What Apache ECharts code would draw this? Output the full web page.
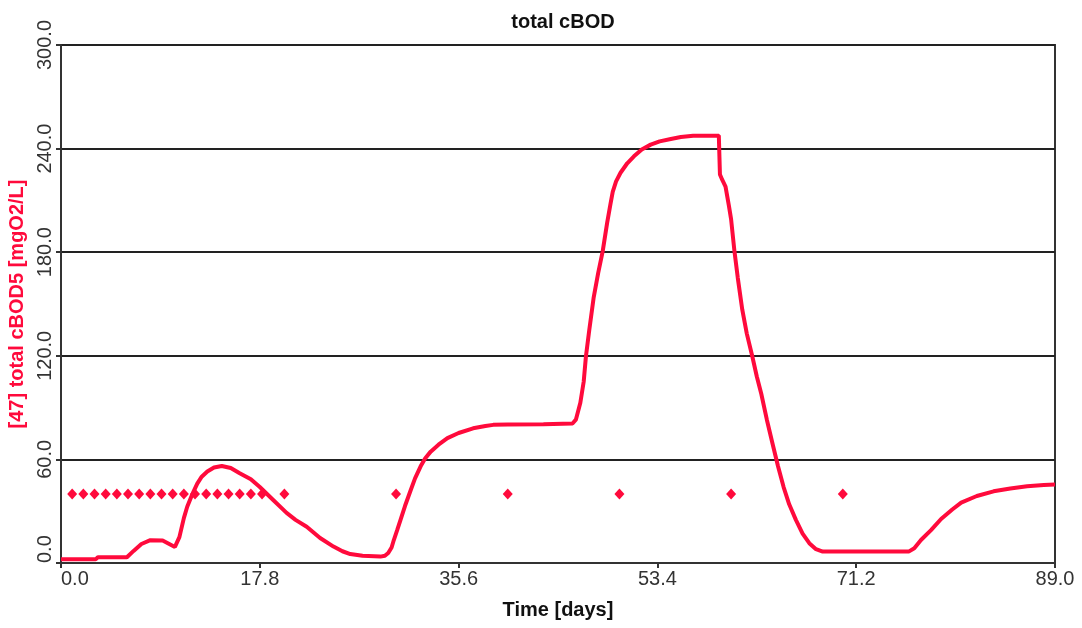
<!DOCTYPE html>
<html>
<head>
<meta charset="utf-8">
<script src="https://cdn.jsdelivr.net/npm/echarts@6/dist/echarts.min.js"></script>
<style>html,body{margin:0;padding:0;background:#fff}#c{width:1082px;height:628px}</style>
</head>
<body>
<div id="c"></div>
<script>
const chartTitle = 'total cBOD';
const xName = 'Time [days]';
const yName = '[47] total cBOD5 [mgO2/L]';
const xTicks = [0, 17.8, 35.6, 53.4, 71.2, 89.0];
const yTicks = [0, 60, 120, 180, 240, 300];
const days = [0,3.1,3.3,5.9,6.5,7.2,8.0,9.1,10.2,10.6,11.0,11.3,11.7,12.2,12.6,13.1,13.7,14.4,15.2,16.0,17.0,17.8,19.0,20.2,21.0,22.0,23.2,24.4,25.2,25.9,27.0,28.6,29.0,29.3,29.6,29.8,30.1,30.4,30.8,31.3,31.7,32.2,32.6,33.1,33.8,34.6,35.6,36.9,38.0,38.7,40,43.2,45.8,46.1,46.5,46.8,47.0,47.3,47.7,48.1,48.5,48.9,49.2,49.4,49.7,50.1,50.7,51.3,52.0,52.8,53.6,54.6,55.5,56.6,58.9,59.0,59.2,59.5,59.8,60.0,60.3,60.6,61.0,61.4,61.9,62.3,62.7,63.2,63.7,64.2,64.7,65.2,65.8,66.4,67.0,67.6,68.2,70,75.9,76.4,77.0,77.9,78.8,79.8,80.6,82.0,83.5,85.0,86.5,88.0,89.0];
const cbod = [2.1,2.1,3.3,3.3,7,11,13.2,13,9.3,15,26,32.6,39,46,50,53,55.3,56.2,55,52,48.5,44,36.5,29,25,21,14.5,9.5,6.8,5.2,4.2,3.7,4.2,5.8,9,13.3,19,25,33,42,49,56,60.5,64.5,68.5,72.3,75.3,78,79.3,80,80.2,80.3,80.8,83,92.8,105,119.6,135,154,168,180.5,197,208,215,221,226,231.5,235.5,239.5,242.3,244.2,245.6,246.7,247.5,247.5,225,222,218,207,199,180.5,165,146.7,133,119.6,108,98,83,69.4,56,44,34,25,17,11.5,8,6.6,6.6,6.6,8.5,13.3,19,25.5,31,35,38.8,41.5,43.2,44.5,45.2,45.5];
const obsDays = [1,2,3,4,5,6,7,8,9,10,11,12,13,14,15,16,17,18,20,30,40,50,60,70];
const obsValues = [40,40,40,40,40,40,40,40,40,40,40,40,40,40,40,40,40,40,40,40,40,40,40,40];

const RED = '#ff0a3c';
const FONT = '"Liberation Sans", Arial, sans-serif';
const chart = echarts.init(document.getElementById('c'), null, {renderer: 'canvas'});
chart.setOption({
  animation: false,
  backgroundColor: '#fff',
  title: {
    text: chartTitle, left: 558, top: 7, textAlign: 'center',
    textStyle: {fontFamily: FONT, fontSize: 20, fontWeight: 'bold', color: '#111'}
  },
  grid: {left: 61, right: 27, top: 45, bottom: 65, show: true, borderColor: '#333', borderWidth: 2,
    backgroundColor: 'transparent', containLabel: false, outerBoundsMode: 'none'},
  xAxis: {
    type: 'value', min: xTicks[0], max: xTicks[xTicks.length - 1], interval: xTicks[1] - xTicks[0],
    name: xName, nameLocation: 'middle', nameGap: 37,
    nameTextStyle: {fontFamily: FONT, fontSize: 20, fontWeight: 'bold', color: '#111'},
    axisLine: {show: true, lineStyle: {color: '#333', width: 2}},
    axisTick: {show: true, length: 5, lineStyle: {color: '#333', width: 2}},
    axisLabel: {fontFamily: FONT, fontSize: 20, color: '#333', margin: 6, alignMinLabel: 'left',
      formatter: v => v.toFixed(1)},
    splitLine: {show: false}
  },
  yAxis: {
    type: 'value', min: yTicks[0], max: yTicks[yTicks.length - 1], interval: yTicks[1] - yTicks[0],
    name: yName, nameLocation: 'middle', nameGap: 30, nameRotate: 90,
    nameTextStyle: {fontFamily: FONT, fontSize: 20, fontWeight: 'bold', color: RED},
    axisLine: {show: true, lineStyle: {color: '#333', width: 2}},
    axisTick: {show: true, length: 5, lineStyle: {color: '#333', width: 2}},
    axisLabel: {fontFamily: FONT, fontSize: 20, color: '#333', margin: 6, rotate: 90, alignMinLabel: 'left',
      formatter: v => v.toFixed(1)},
    splitLine: {show: true, lineStyle: {color: '#222', width: 2}}
  },
  series: [
    {
      type: 'scatter', symbol: 'diamond', symbolSize: [10, 11], z: 2,
      itemStyle: {color: RED, opacity: 1},
      data: obsDays.map((d, i) => [d, obsValues[i]])
    },
    {
      type: 'line', showSymbol: false, z: 3, smooth: false,
      lineStyle: {color: RED, width: 4},
      data: days.map((d, i) => [d, cbod[i]])
    }
  ]
});
</script>
</body>
</html>
